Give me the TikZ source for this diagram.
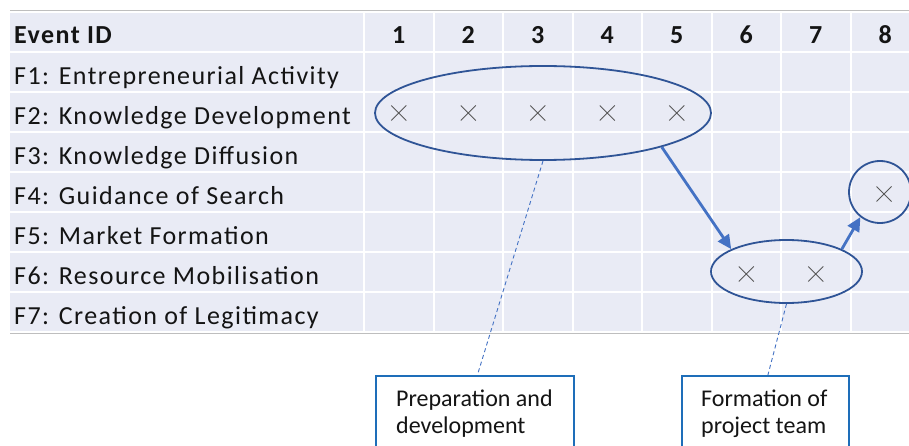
\documentclass[tikz,border=0pt]{standalone}
\usepackage{fontspec}
\setmainfont{Carlito}
\newfontfamily\rowfont[LetterSpace=5.5]{Carlito}
\usetikzlibrary{shapes.geometric,arrows.meta,calc}
\definecolor{cellfill}{RGB}{233,235,245}
\definecolor{ringblue}{RGB}{47,84,150}
\definecolor{arrowblue}{RGB}{68,114,196}
\definecolor{boxblue}{RGB}{30,110,185}
\definecolor{crossgray}{RGB}{89,89,89}
\definecolor{rulegray}{RGB}{190,190,190}
\definecolor{textblack}{RGB}{20,20,20}
\tikzset{
  cell/.style={fill=cellfill, draw=none},
  rowlabel/.style={anchor=base west, inner sep=0pt, font=\rowfont\fontsize{26}{30}\selectfont, text=textblack},
  headnum/.style={anchor=base, inner sep=0pt, font=\rowfont\bfseries\fontsize{26}{30}\selectfont, text=textblack},
  ring/.style={draw=ringblue, line width=1.8pt, ellipse, inner sep=0pt},
  flow/.style={draw=arrowblue, line width=2.8pt, -{Triangle[length=14pt,width=13pt]}},
  leader/.style={draw=arrowblue, line width=0.9pt, dash pattern=on 4pt off 3pt},
  notebox/.style={draw=boxblue, line width=1.8pt, rectangle, anchor=north west},
  notetext/.style={anchor=base west, inner sep=0pt, font=\fontsize{24}{28}\selectfont, text=textblack},
}
\newcommand{\crossmark}[1]{%
  \draw[crossgray, line width=0.8pt] ($(#1)+(-7.5,-7.5)$) -- ($(#1)+(7.5,7.5)$)
    ($(#1)+(-7.5,7.5)$) -- ($(#1)+(7.5,-7.5)$);}
\begin{document}
\begin{tikzpicture}[x=1pt,y=-1pt]
\useasboundingbox (0,0) rectangle (909,446);
\fill[white] (0,0) rectangle (909,446);
% grid cells
\foreach \r in {0,...,7}{
  \pgfmathsetmacro{\ytop}{\r==0 ? 12 : 52+(\r-1)*40}
  \pgfmathsetmacro{\ybot}{\r==0 ? 52 : 52+\r*40}
  \fill[cell] (10,\ytop+1) rectangle (363,\ybot-1);
  \foreach \c in {1,...,8}{
    \fill[cell] ({364+(\c-1)*69.5+1},\ytop+1) rectangle ({364+\c*69.5-1},\ybot-1);
  }
}
\draw[rulegray, line width=1pt] (10,11) -- (909,11);
\draw[rulegray, line width=1pt] (10,333) -- (909,333);
% header
\node[rowlabel, font=\rowfont\bfseries\fontsize{26}{30}\selectfont] (hdr) at (14,44) {Event ID};
\foreach \c in {1,...,8}{
  \node[headnum] (n\c) at ({364+(\c-0.5)*69.5},44) {\c};
}
% function rows
\node[rowlabel] (f1) at (14,84.5) {F1: Entrepreneurial Activity};
\node[rowlabel] (f2) at (14,124.5) {F2: Knowledge Development};
\node[rowlabel] (f3) at (14,164.5) {F3: Knowledge Diffusion};
\node[rowlabel] (f4) at (14,204.5) {F4: Guidance of Search};
\node[rowlabel] (f5) at (14,244.5) {F5: Market Formation};
\node[rowlabel] (f6) at (14,284.5) {F6: Resource Mobilisation};
\node[rowlabel] (f7) at (14,324.5) {F7: Creation of Legitimacy};
% event marks
\foreach \c in {1,...,5}{
  \coordinate (m\c) at ({364+(\c-0.5)*69.5},113);
  \crossmark{m\c}
}
\coordinate (m6) at ({364+5.5*69.5},274);
\crossmark{m6}
\coordinate (m7) at ({364+6.5*69.5},274);
\crossmark{m7}
\coordinate (m8) at (884,194);
\crossmark{m8}
% groupings
\node[ring, minimum width=336pt, minimum height=94pt] (prep) at (543,113) {};
\node[ring, minimum width=151pt, minimum height=63pt] (team) at (786.5,271.5) {};
\node[ring, circle, minimum size=62pt] (guide) at (880,192) {};
\draw[flow] (prep.-16) -- (team.158.5);
\draw[flow] (team.22) -- (guide.232);
% notes
\node[notebox, minimum width=198pt, minimum height=90pt] (note1) at (375,375) {};
\node[notebox, minimum width=167pt, minimum height=90pt] (note2) at (681,375) {};
\node[notetext] (note1a) at (396,406) {Preparation and};
\node[notetext] (note1b) at (396,433.5) {development};
\node[notetext] (note2a) at (701,406) {Formation of};
\node[notetext] (note2b) at (701,433.5) {project team};
\draw[leader] (prep.south) -- ([xshift=2.5pt]note1.north);
\draw[leader] (team.south) -- ([xshift=2.5pt]note2.north);
\end{tikzpicture}
\end{document}
